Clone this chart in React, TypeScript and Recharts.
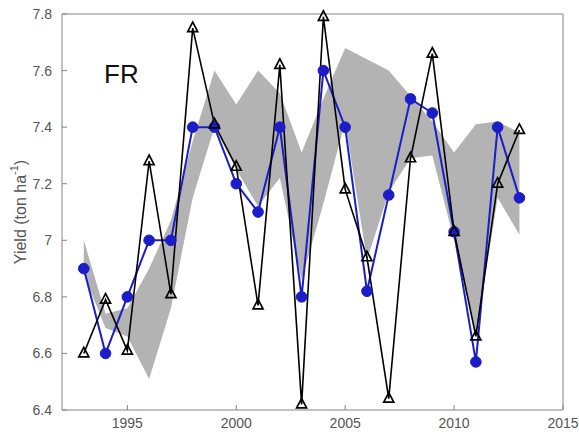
import { Area, ComposedChart, Line, XAxis, YAxis } from "recharts";

const years = [
  1993, 1994, 1995, 1996, 1997, 1998, 1999, 2000, 2001, 2002, 2003, 2004, 2005, 2006, 2007, 2008,
  2009, 2010, 2011, 2012, 2013,
];
const simulated = [
  6.9, 6.6, 6.8, 7.0, 7.0, 7.4, 7.4, 7.2, 7.1, 7.4, 6.8, 7.6, 7.4, 6.82, 7.16, 7.5, 7.45, 7.03,
  6.57, 7.4, 7.15,
];
const observed = [
  6.6, 6.79, 6.61, 7.28, 6.81, 7.75, 7.41, 7.26, 6.77, 7.62, 6.42, 7.79, 7.18, 6.94, 6.44, 7.29,
  7.66, 7.03, 6.66, 7.2, 7.39,
];
const bandLow = [
  6.88, 6.69, 6.66, 6.51, 6.76, 7.15, 7.4, 7.25, 7.12, 7.22, 6.86, 7.13, 7.42, 6.93, 7.17, 7.29,
  7.3, 7.0, 6.66, 7.15, 7.02,
];
const bandHigh = [
  7.0, 6.74, 6.76, 6.9, 7.07, 7.35, 7.6, 7.48, 7.6, 7.52, 7.31, 7.5, 7.68, 7.64, 7.6, 7.51, 7.42,
  7.31, 7.41, 7.42, 7.38,
];
const xTicks = [1995, 2000, 2005, 2010, 2015];
const yTicks = [6.4, 6.6, 6.8, 7, 7.2, 7.4, 7.6, 7.8];

const data = years.map((year, i) => ({
  year,
  sim: simulated[i],
  obs: observed[i],
  band: [bandLow[i], bandHigh[i]],
}));

const FONT = "'Liberation Sans', Arial, sans-serif";
const AXIS = "#858585";
const BLUE = "#1c1cc8";

function BlueDot(props: any) {
  const { cx, cy, index } = props;
  if (cx == null || cy == null) return <g key={`b-${index}`} />;
  return <circle key={`b-${index}`} cx={cx} cy={cy} r={5.3} fill={BLUE} stroke={BLUE} />;
}

function TriDot(props: any) {
  const { cx, cy, index } = props;
  if (cx == null || cy == null) return <g key={`t-${index}`} />;
  const pts = `${cx},${cy - 6} ${cx - 5},${cy + 3.5} ${cx + 5},${cy + 3.5}`;
  return (
    <polygon key={`t-${index}`} points={pts} fill="none" stroke="#000" strokeWidth={1.7} strokeLinejoin="miter" />
  );
}

function YieldLabel(props: any) {
  const vb = props.viewBox || {};
  const cx = 20;
  const cy = vb.y + vb.height / 2;
  return (
    <text
      x={cx}
      y={cy}
      transform={`rotate(-90 ${cx} ${cy})`}
      textAnchor="middle"
      dominantBaseline="central"
      fill="#555"
      fontSize={16}
      fontFamily={FONT}
    >
      Yield (ton ha
      <tspan fontSize={11} dy={-6}>
        -1
      </tspan>
      <tspan dy={6}>)</tspan>
    </text>
  );
}

export default function App() {
  return (
    <div style={{ position: "fixed", left: 0, top: 0, width: 579, height: 434, background: "#fff" }}>
      <ComposedChart
        width={579}
        height={434}
        data={data}
        margin={{ top: 13, right: 15, bottom: 0, left: 0 }}
        style={{ overflow: "visible" }}
      >
        <XAxis
          xAxisId="b"
          type="number"
          dataKey="year"
          domain={[1992, 2015]}
          ticks={xTicks}
          height={24}
          stroke={AXIS}
          tickSize={-5}
          tickMargin={13}
          tick={{ fill: "#555", fontSize: 14, fontFamily: FONT }}
        />
        <XAxis
          xAxisId="t"
          orientation="top"
          type="number"
          dataKey="year"
          domain={[1992, 2015]}
          ticks={xTicks}
          height={1}
          stroke={AXIS}
          tickSize={-5}
          tick={false}
        />
        <YAxis
          yAxisId="l"
          type="number"
          domain={[6.4, 7.8]}
          ticks={yTicks}
          width={62}
          stroke={AXIS}
          tickSize={-5}
          tickMargin={15}
          tickFormatter={(v: number) => (v === 7 ? "7" : v.toFixed(1))}
          tick={{ fill: "#555", fontSize: 14, fontFamily: FONT }}
          label={{ content: (p: any) => <YieldLabel {...p} /> }}
        />
        <YAxis
          yAxisId="r"
          orientation="right"
          type="number"
          domain={[6.4, 7.8]}
          ticks={yTicks}
          width={1}
          stroke={AXIS}
          tickSize={-5}
          tick={false}
        />
        <Area
          xAxisId="b"
          yAxisId="l"
          dataKey="band"
          stroke="none"
          fill="#b3b3b3"
          fillOpacity={1}
          dot={false}
          activeDot={false}
          isAnimationActive={false}
        />
        <Line
          xAxisId="b"
          yAxisId="l"
          dataKey="sim"
          stroke={BLUE}
          strokeWidth={2}
          dot={(p: any) => <BlueDot key={`b-${p.index}`} {...p} />}
          activeDot={false}
          isAnimationActive={false}
        />
        <Line
          xAxisId="b"
          yAxisId="l"
          dataKey="obs"
          stroke="#000"
          strokeWidth={1.6}
          dot={(p: any) => <TriDot key={`t-${p.index}`} {...p} />}
          activeDot={false}
          isAnimationActive={false}
        />
      </ComposedChart>
      <div
        style={{
          position: "absolute",
          left: 104,
          top: 61,
          fontFamily: FONT,
          fontSize: 26,
          lineHeight: "26px",
          color: "#111",
        }}
      >
        FR
      </div>
    </div>
  );
}
